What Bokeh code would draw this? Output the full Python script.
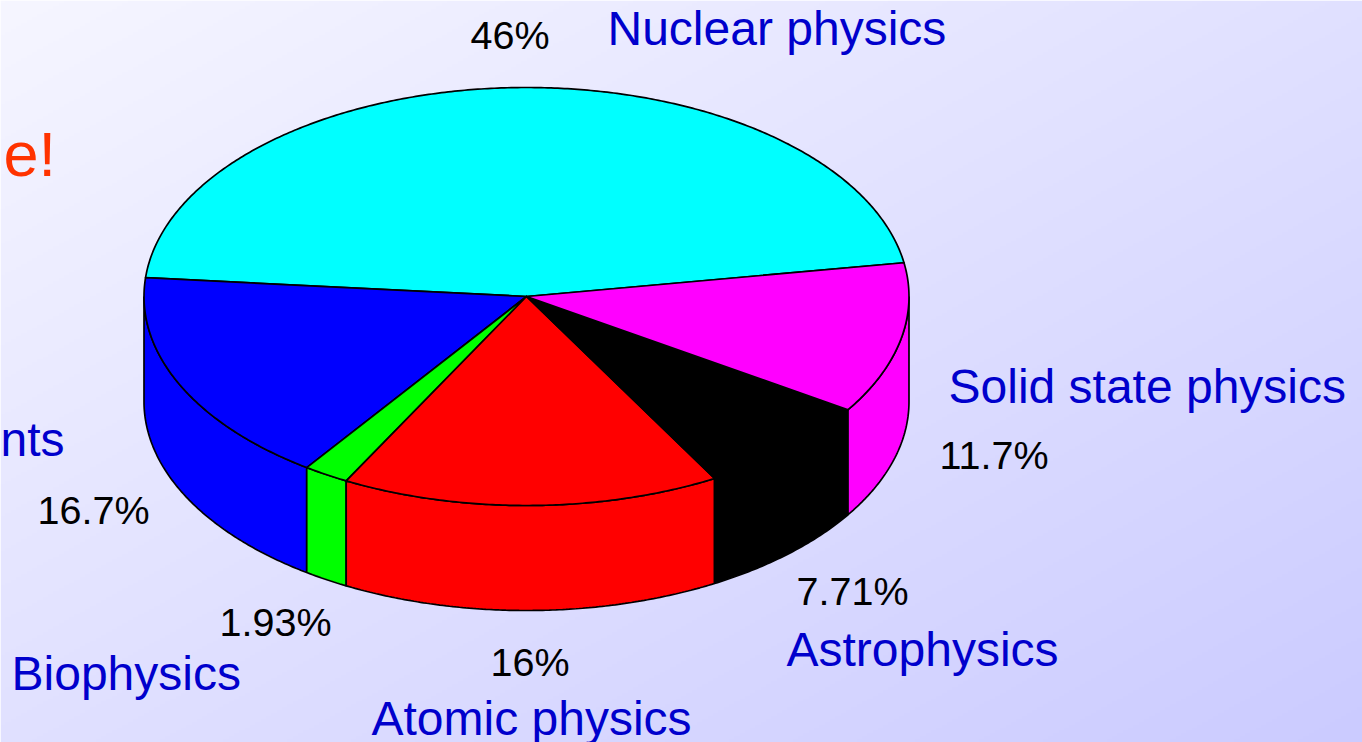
import numpy as np
from bokeh.plotting import figure
from bokeh.models import Range1d
from bokeh.core.properties import value
from bokeh.embed import file_html
from bokeh.resources import INLINE

# Data (counter-clockwise from the cyan slice)
categories = ["Nuclear physics", "Instruments", "Biophysics", "Atomic physics", "Astrophysics", "Solid state physics"]
values = [46, 16.7, 1.93, 16, 7.71, 11.7]
colors = ["#00ffff", "#0000ff", "#00ff00", "#ff0000", "#000000", "#ff00ff"]
pct_labels = ["46%", "16.7%", "1.93%", "16%", "7.71%", "11.7%"]

W, H = 1362, 742
CX, CY, RX, RY, DEPTH = 526.0, 296.0, 382.5, 209.0, 105.0
START = 9.3
LINE = 1.7
BLUE = "#0000cc"
PCT_PX, NAME_PX, TITLE_PX = 39.5, 48, 63
FONT = value("Liberation Sans")
BASE = 0.37  # the svg text sits this many ems below the asked baseline

p = figure(width=W, height=H, output_backend="svg", toolbar_location=None,
           x_range=Range1d(0, W), y_range=Range1d(H, 0), min_border=0)
p.styles = {"position": "absolute", "left": "0px", "top": "0px"}
p.axis.visible = False
p.grid.visible = False
p.outline_line_color = None

# Background gradient
n = 256
gx, gy = np.meshgrid(np.linspace(0, 1, n), np.linspace(0, 1, n))
t = (gx + gy) / 2
r = (246 + (203 - 246) * t).astype(np.uint32)
img = (255 << 24) | (255 << 16) | (r << 8) | r
p.image_rgba(image=[img.astype(np.uint32)], x=0, y=0, dw=W, dh=H)


def arc(a, b, yoff=0.0):
    th = np.radians(np.linspace(a, b, max(int(abs(b - a) * 2), 2) + 1))
    return CX + RX * np.cos(th), CY + yoff - RY * np.sin(th)


edges = START + np.cumsum([0] + [v / sum(values) * 360 for v in values])

# Side walls (front half only)
wx, wy, wc = [], [], []
for a, b, c in zip(edges[:-1], edges[1:], colors):
    lo, hi = max(a, 180), min(b, 360)
    if hi <= lo:
        continue
    x1, y1 = arc(lo, hi)
    x2, y2 = arc(hi, lo, DEPTH)
    wx.append(np.r_[x1, x2])
    wy.append(np.r_[y1, y2])
    wc.append(c)
p.patches(wx, wy, fill_color=wc, line_color="black", line_width=LINE)

# Top slices
tx, ty = [], []
for a, b in zip(edges[:-1], edges[1:]):
    x1, y1 = arc(a, b)
    tx.append(np.r_[CX, x1])
    ty.append(np.r_[CY, y1])
p.patches(tx, ty, fill_color=colors, line_color="black", line_width=LINE, line_join="round")

# Percent labels, in order of `values`
pct_x = [470, 37, 219, 490, 796, 939]
pct_base = [49, 524, 636, 676, 605, 469]
p.text(x=pct_x, y=[b - BASE * PCT_PX for b in pct_base], text=pct_labels, text_font=FONT,
       text_font_size=value(f"{PCT_PX}px"), text_color="#000000",
       text_align="left", text_baseline="alphabetic")

# Category labels
name_text = ["Nuclear physics", "Solid state physics", "Astrophysics", "Atomic physics", "Biophysics", "nts"]
name_x = [607, 948, 786, 371, 11, 0]
name_base = [46, 404, 667, 736, 691, 457]
p.text(x=name_x, y=[b - BASE * NAME_PX for b in name_base], text=name_text, text_font=FONT,
       text_font_size=value(f"{NAME_PX}px"), text_color=BLUE,
       text_align="left", text_baseline="alphabetic")

# Clipped title fragment
p.text(x=[3], y=[177 - BASE * TITLE_PX], text=["e!"], text_font=FONT,
       text_font_size=value(f"{TITLE_PX}px"), text_color="#ff3300",
       text_align="left", text_baseline="alphabetic")

open("out.html", "w").write(file_html(p, INLINE))
